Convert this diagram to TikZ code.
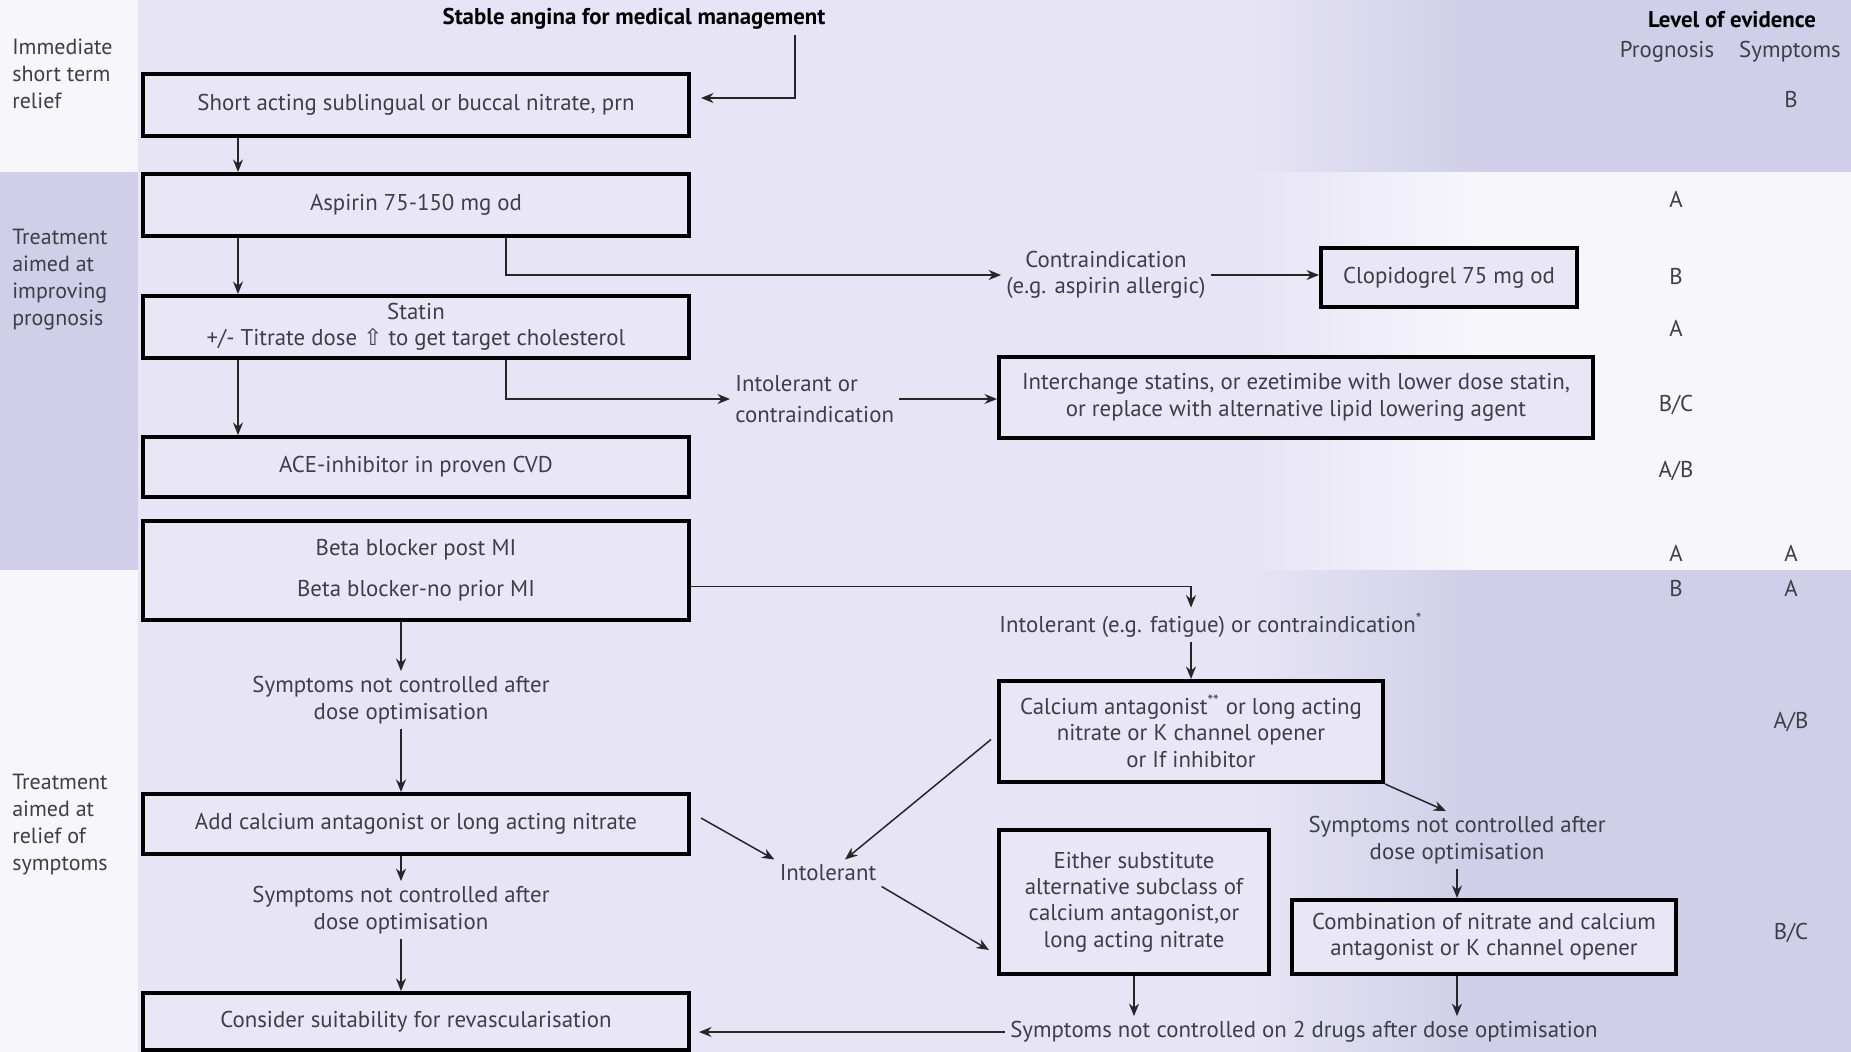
\documentclass[tikz,border=0pt]{standalone}
\usepackage{fontspec}
\setmainfont{PT Sans}
\newfontfamily\arrowfont{DejaVu Sans}
\usepackage{tikz}
\usepackage{xcolor}
\usetikzlibrary{arrows.meta,positioning,calc}

\definecolor{lavdark}{RGB}{208,206,232}
\definecolor{lavlight}{RGB}{231,228,245}
\definecolor{lavwhite}{RGB}{247,246,251}
\definecolor{boxfill}{RGB}{233,230,246}
\definecolor{inkgray}{RGB}{62,62,70}

\begin{document}
\begin{tikzpicture}[x=0.2mm,y=-0.2mm,>={Stealth[length=2.5mm,width=2mm]},
  every node/.style={font=\fontsize{13}{15}\selectfont, text=inkgray}]

\tikzstyle{block}=[
  rectangle,
  draw=black,
  line width=0.8mm,
  fill=boxfill,
  align=center,
  inner sep=1mm
]
\tikzstyle{wide}=[minimum width=109.2mm]
\tikzstyle{note}=[align=center, inner sep=1mm]
\tikzstyle{side}=[align=left, inner sep=0pt, anchor=north west,
  font=\fontsize{12.5}{15.3}\selectfont]
\tikzstyle{grade}=[inner sep=0pt]
\tikzstyle{link}=[->, line width=0.3mm, draw=black!85]

% Background bands
\useasboundingbox (0,0) rectangle (1851,1052);
\fill[lavlight] (0,0) rectangle (1851,1052);
\fill[lavwhite] (0,0) rectangle (138,172);
\fill[lavdark] (0,172) rectangle (138,570);
\fill[lavwhite] (0,570) rectangle (138,1052);
\shade[left color=lavlight, right color=lavdark] (1250,0) rectangle (1480,172);
\fill[lavdark] (1480,0) rectangle (1851,172);
\shade[left color=lavlight, right color=lavwhite] (1250,172) rectangle (1480,570);
\fill[lavwhite] (1480,172) rectangle (1851,570);
\shade[left color=lavlight, right color=lavdark] (1250,570) rectangle (1480,1052);
\fill[lavdark] (1480,570) rectangle (1851,1052);

% Main column
\node[note, font=\fontsize{13}{15}\selectfont\bfseries, text=black] (title) at (634,19)
{Stable angina for medical management};

\node[block, wide, minimum height=12.4mm] (nitrate) at (416,105)
{Short acting sublingual or buccal nitrate, prn};

\node[block, wide, minimum height=12.4mm] (aspirin) at (416,205)
{Aspirin 75-150 mg od};

\node[block, wide, minimum height=12.4mm] (statin) at (416,327)
{Statin\\+/- Titrate dose {\arrowfont ⇧} to get target cholesterol};

\node[block, wide, minimum height=12mm] (ace) at (416,467)
{ACE-inhibitor in proven CVD};

\node[block, wide, minimum height=19.8mm] (beta) at (416,570.5)
{Beta blocker post MI\\[3mm]Beta blocker-no prior MI};

\node[note] (sympa) at (401,700)
{Symptoms not controlled after\\dose optimisation};

\node[block, wide, minimum height=12mm] (addca) at (416,824)
{Add calcium antagonist or long acting nitrate};

\node[note] (sympb) at (401,910)
{Symptoms not controlled after\\dose optimisation};

\node[block, wide, minimum height=11.4mm] (revasc) at (416,1021.5)
{Consider suitability for revascularisation};

% Alternatives
\node[note] (contra) at (1106,275)
{Contraindication\\(e.g. aspirin allergic)};

\node[block, minimum width=51.2mm, minimum height=11.8mm] (clopid) at (1449,277.5)
{Clopidogrel 75 mg od};

\node[note, anchor=west, align=left] (intolst) at (730,399)
{Intolerant or\\[1mm]contraindication};

\node[block, minimum width=118.8mm, minimum height=16.2mm] (interch) at (1296,397.5)
{Interchange statins, or ezetimibe with lower dose statin,\\or replace with alternative lipid lowering agent};

\node[note, anchor=west] (intolbb) at (994,625)
{Intolerant (e.g. fatigue) or contraindication\textsuperscript{*}};

\node[block, minimum width=76.8mm, minimum height=20.2mm] (caant) at (1191,731.5)
{Calcium antagonist\textsuperscript{**} or long acting\\nitrate or K channel opener\\or If inhibitor};

\node[note] (sympc) at (1457,840)
{Symptoms not controlled after\\dose optimisation};

\node[note] (intol) at (828,873) {Intolerant};

\node[block, minimum width=54mm, minimum height=28.8mm] (either) at (1134,902)
{Either substitute\\alternative subclass of\\calcium antagonist,or\\long acting nitrate};

\node[block, minimum width=76.8mm, minimum height=14.8mm] (combo) at (1484,937)
{Combination of nitrate and calcium\\antagonist or K channel opener};

\node[note] (twodrug) at (1304,1032)
{Symptoms not controlled on 2 drugs after dose optimisation};

% Side labels
\node[side] (immed) at (12,39) {Immediate\\short term\\relief};
\node[side] (progn) at (12,229) {Treatment\\aimed at\\improving\\prognosis};
\node[side] (relief) at (12,774) {Treatment\\aimed at\\relief of\\symptoms};

% Level of evidence
\node[note, font=\fontsize{13}{15}\selectfont\bfseries, text=black] (loe) at (1732,20) {Level of evidence};
\node[grade] (progh) at (1667,52) {Prognosis};
\node[grade] (symph) at (1790,52) {Symptoms};
\node[grade] (evnit) at (1791,100) {B};
\node[grade] (evasp) at (1676,199) {A};
\node[grade] (evclo) at (1676,277) {B};
\node[grade] (evsta) at (1676,328) {A};
\node[grade] (evint) at (1676,405) {B/C};
\node[grade] (evace) at (1676,471) {A/B};
\node[grade] (evbpa) at (1676,553) {A};
\node[grade] (evbsa) at (1791,553) {A};
\node[grade] (evbpb) at (1676,588) {B};
\node[grade] (evbsb) at (1791,588) {A};
\node[grade] (evcal) at (1791,722) {A/B};
\node[grade] (evcom) at (1791,933) {B/C};

% Vertical arrows
\draw[link, shorten >=2mm] ($(title.south)+(161,0)$) |- ($(nitrate.east)+(0,-7)$);
\draw[link] ($(nitrate.south west)+(97,0)$) -- ($(aspirin.north west)+(97,0)$);
\draw[link] ($(aspirin.south west)+(97,0)$) -- ($(statin.north west)+(97,0)$);
\draw[link] ($(statin.south west)+(97,0)$) -- ($(ace.north west)+(97,0)$);
\draw[link] (beta.south -| sympa.north) -- (sympa.north);
\draw[link] (sympa.south) -- (sympa.south |- addca.north);
\draw[link] (addca.south -| sympb.north) -- (sympb.north);
\draw[link] (sympb.south) -- (sympb.south |- revasc.north);

% Side branches
\draw[link] ($(aspirin.south west)+(365,0)$) |- (contra.west);
\draw[link] (contra.east) -- (contra.east -| clopid.west);
\draw[link] ($(statin.south west)+(365,0)$) |- (intolst.west);
\draw[link] (intolst.east) -- (intolst.east -| interch.west);
\draw[link] ($(beta.east)+(0,16)$) -| (intolbb.north -| caant.north);
\draw[link] (intolbb.south -| caant.north) -- (caant.north);
\draw[link] (caant.south east) -- ($(sympc.north)+(-11,0)$);
\draw[link] (sympc.south) -- (sympc.south |- combo.north);
\draw[link] ($(addca.east)+(10,-6)$) -- (intol.north west);
\draw[link] ($(caant.west)+(-6,8)$) -- ($(intol.north)+(17,0)$);
\draw[link] (intol.south east) -- ($(either.west)+(-8,48)$);
\draw[link] (either.south) -- (either.south |- twodrug.north);
\draw[link] (combo.south -| sympc.south) -- (twodrug.north -| sympc.south);
\draw[link, shorten >=1.6mm] (twodrug.west) -- (twodrug.west -| revasc.east);

\end{tikzpicture}
\end{document}
